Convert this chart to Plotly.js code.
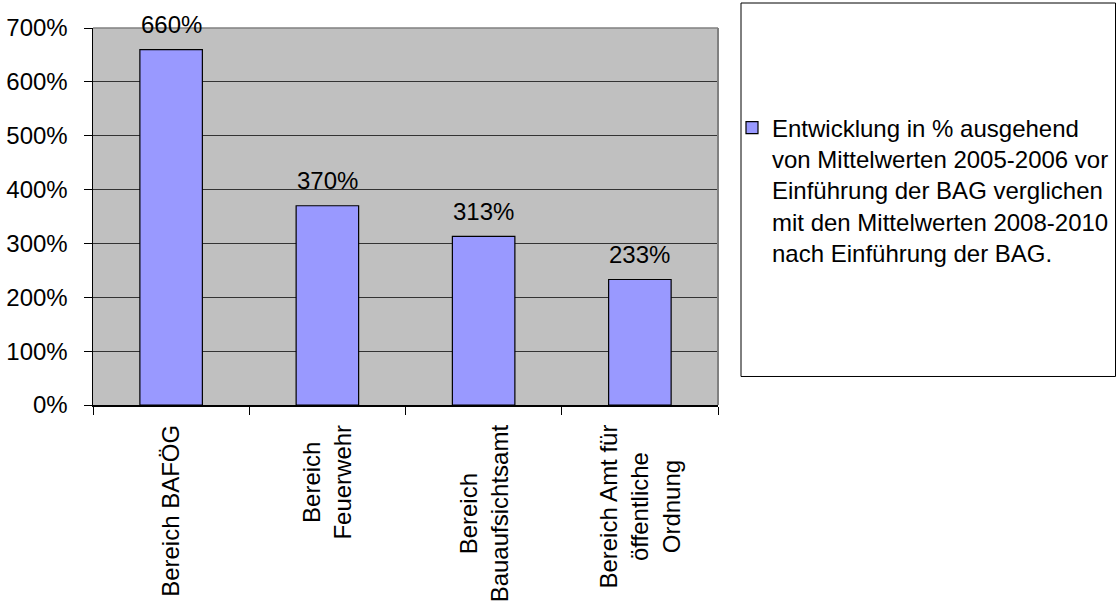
<!DOCTYPE html>
<html>
<head>
<meta charset="utf-8">
<script src="https://cdn.plot.ly/plotly-3.0.1.min.js"></script>
<style>html,body{margin:0;padding:0;background:#fff;}#chart{width:1118px;height:610px;}</style>
</head>
<body>
<div id="chart"></div>
<script>
const categories = ["Bereich BAFÖG", "Bereich Feuerwehr", "Bereich Bauaufsichtsamt", "Bereich Amt für öffentliche Ordnung"];
const categoryLabels = ["Bereich BAFÖG", "Bereich<br>Feuerwehr", "Bereich<br>Bauaufsichtsamt", "Bereich Amt für<br>öffentliche<br>Ordnung"];
const values = [660, 370, 313, 233];
const valueLabels = ["660%", "370%", "313%", "233%"];
const seriesName = "Entwicklung in % ausgehend<br>von Mittelwerten 2005-2006 vor<br>Einführung der BAG verglichen<br>mit den Mittelwerten 2008-2010<br>nach Einführung der BAG.";
const yTicks = [0, 100, 200, 300, 400, 500, 600, 700];

const FONT = "'Liberation Sans', Arial, sans-serif";
const FS = 24;

const trace = {
  type: "bar",
  x: categories,
  y: values,
  name: seriesName,
  marker: {color: "#9999FF", line: {color: "#000000", width: 1.2}},
  showlegend: true,
  hoverinfo: "none"
};

const annotations = [];
categories.forEach((c, i) => {
  annotations.push({
    x: c, y: values[i], xref: "x", yref: "y",
    text: valueLabels[i], showarrow: false,
    yanchor: "middle", xanchor: "center", yshift: 25,
    font: {family: FONT, size: FS, color: "#000"}
  });
  annotations.push({
    x: c, y: -0.047, xref: "x", yref: "paper",
    text: categoryLabels[i], showarrow: false,
    textangle: -90, yanchor: "top", xanchor: "center", align: "center",
    font: {family: FONT, size: FS, color: "#000"}
  });
});

const layout = {
  width: 1118, height: 610,
  margin: {l: 93, r: 400, t: 28, b: 205, pad: 0, autoexpand: false},
  paper_bgcolor: "#ffffff",
  plot_bgcolor: "#C0C0C0",
  font: {family: FONT, size: FS, color: "#000"},
  bargap: 0.6,
  xaxis: {
    type: "category",
    categoryarray: categories,
    range: [-0.5, 3.5],
    showticklabels: false,
    ticks: "outside", tickson: "boundaries", ticklen: 8, tickcolor: "#000", tickwidth: 1,
    showline: true, linecolor: "#000", linewidth: 1.5,
    showgrid: false, zeroline: false, fixedrange: true
  },
  yaxis: {
    range: [0, 700],
    tickvals: yTicks,
    ticktext: yTicks.map(v => v + "%"),
    ticks: "outside", ticklen: 8, tickcolor: "#000", tickwidth: 1,
    ticklabelstandoff: 11,
    showline: true, linecolor: "#000", linewidth: 1.5,
    showgrid: true, gridcolor: "#333333", gridwidth: 1,
    zeroline: false, fixedrange: true,
    automargin: false,
    tickfont: {family: FONT, size: FS, color: "#000"}
  },
  legend: {
    x: 1.0224, xanchor: "left", y: 0.570, yanchor: "middle",
    valign: "top",
    bgcolor: "rgba(0,0,0,0)", borderwidth: 0,
    font: {family: FONT, size: FS, color: "#000"}
  },
  shapes: [
    {type: "line", xref: "paper", yref: "paper", x0: 0, x1: 1, y0: 1, y1: 1, line: {color: "#808080", width: 1.5}, layer: "above"},
    {type: "line", xref: "paper", yref: "paper", x0: 1, x1: 1, y0: 0, y1: 1, line: {color: "#808080", width: 2}, layer: "above"},
    {type: "rect", xref: "paper", yref: "paper", x0: 1.0368, x1: 1.636, y0: 0.0756, y1: 1.0663, line: {color: "#000", width: 1}, fillcolor: "rgba(0,0,0,0)"}
  ],
  annotations: annotations
};

Plotly.newPlot("chart", [trace], layout, {displayModeBar: false, staticPlot: true});
</script>
</body>
</html>
